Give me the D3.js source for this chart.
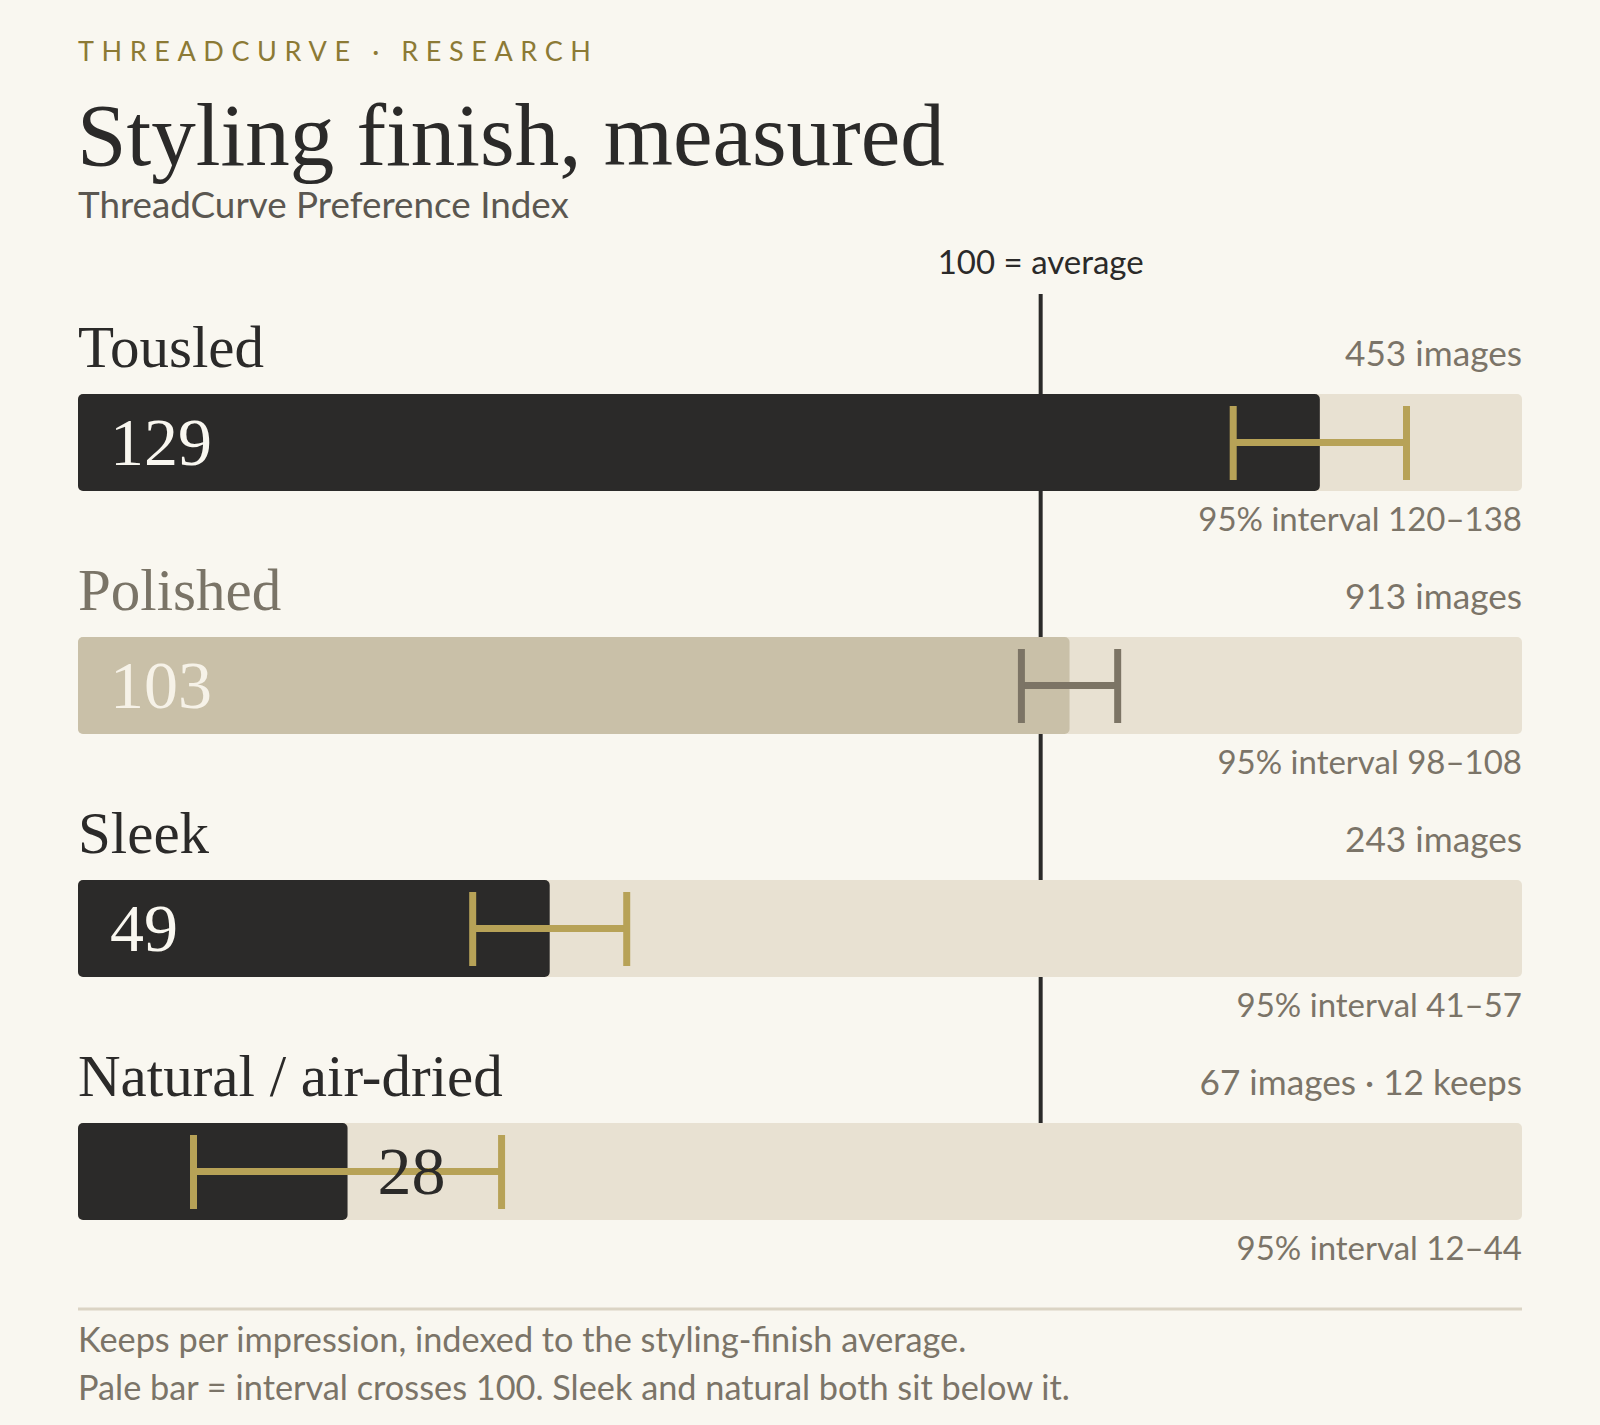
<!DOCTYPE html>
<html><head><meta charset="utf-8">
<script src="https://cdn.jsdelivr.net/npm/d3@7"></script>
<style>
html,body{margin:0;padding:0;background:#f9f7f0;}
svg{display:block;}
</style></head>
<body>
<svg id="chart" width="1600" height="1425"></svg>
<script>
const categories = ["Tousled", "Polished", "Sleek", "Natural / air-dried"];
const values = [129, 103, 49, 28];
const lowCI = [120, 98, 41, 12];
const highCI = [138, 108, 57, 44];
const sampleNotes = ["453 images", "913 images", "243 images", "67 images · 12 keeps"];
const crossesAverage = [false, true, false, false];
const domainMax = 150;
const averageValue = 100;

const W = 1600, H = 1425;
const left = 78, right = 1522;
const serif = "'Liberation Serif', 'Times New Roman', serif";
const sans = "Lato, 'Open Sans', sans-serif";
const C = {bg:"#f9f7f0", dark:"#2b2a29", pale:"#c9c0a8", track:"#e8e1d2", gold:"#b7a257", grey:"#7a7467", mute:"#7b7468", eyebrow:"#8c7a35"};

const svg = d3.select("#chart");
svg.append("rect").attr("width", W).attr("height", H).attr("fill", C.bg);

const x = d3.scaleLinear().domain([0, domainMax]).range([left, right]);
const y = d3.scaleBand().domain(categories).range([394, 394 + 243*4]).paddingInner(0).paddingOuter(0);
const barH = 97;

// header
svg.append("text").attr("x", left).attr("y", 61).text("THREADCURVE · RESEARCH")
  .attr("font-family", sans).attr("font-size", 27).attr("letter-spacing", "7.6px").attr("fill", C.eyebrow);
svg.append("text").attr("x", left - 1).attr("y", 165).text("Styling finish, measured")
  .attr("font-family", serif).attr("font-size", 89).attr("fill", C.dark);
svg.append("text").attr("x", left).attr("y", 218).text("ThreadCurve Preference Index")
  .attr("font-family", sans).attr("font-size", 36.8).attr("fill", "#5b5751");

// average line
svg.append("line").attr("x1", x(averageValue)).attr("x2", x(averageValue))
  .attr("y1", 294).attr("y2", y(categories[3]) + 2).attr("stroke", C.dark).attr("stroke-width", 4);
svg.append("text").attr("x", x(averageValue)).attr("y", 274).attr("text-anchor", "middle")
  .text("100 = average").attr("font-family", sans).attr("font-size", 33).attr("fill", C.dark);

const rows = svg.selectAll("g.row").data(categories.map((c, i) => ({c, i})))
  .enter().append("g").attr("class", "row");

rows.append("rect").attr("x", x(0)).attr("y", d => y(d.c)).attr("width", x(domainMax) - x(0))
  .attr("height", barH).attr("rx", 5).attr("fill", C.track);
rows.append("rect").attr("x", x(0)).attr("y", d => y(d.c)).attr("width", d => x(values[d.i]) - x(0))
  .attr("height", barH).attr("rx", 5).attr("fill", d => crossesAverage[d.i] ? C.pale : C.dark);

rows.append("text").attr("x", left).attr("y", d => y(d.c) - 27).text(d => d.c)
  .attr("font-family", serif).attr("font-size", 59)
  .attr("fill", d => crossesAverage[d.i] ? C.grey : C.dark);
rows.append("text").attr("x", right).attr("y", d => y(d.c) - 28).attr("text-anchor", "end")
  .text(d => sampleNotes[d.i]).attr("font-family", sans).attr("font-size", 35.2).attr("fill", C.mute);
rows.append("text").attr("x", right).attr("y", d => y(d.c) + barH + 40).attr("text-anchor", "end")
  .text(d => `95% interval ${lowCI[d.i]}–${highCI[d.i]}`).attr("font-family", sans).attr("font-size", 33).attr("fill", C.mute);

// whiskers
const wk = rows.append("g").attr("stroke", d => crossesAverage[d.i] ? "#7c7465" : C.gold).attr("stroke-width", 7);
wk.append("line").attr("x1", d => x(lowCI[d.i])).attr("x2", d => x(highCI[d.i]))
  .attr("y1", d => y(d.c) + barH/2).attr("y2", d => y(d.c) + barH/2);
wk.append("line").attr("x1", d => x(lowCI[d.i])).attr("x2", d => x(lowCI[d.i]))
  .attr("y1", d => y(d.c) + 12).attr("y2", d => y(d.c) + barH - 11);
wk.append("line").attr("x1", d => x(highCI[d.i])).attr("x2", d => x(highCI[d.i]))
  .attr("y1", d => y(d.c) + 12).attr("y2", d => y(d.c) + barH - 11);

// value labels
rows.append("text")
  .attr("x", d => values[d.i] < 30 ? x(values[d.i]) + 30 : left + 32)
  .attr("y", d => y(d.c) + barH/2 + 22)
  .text(d => values[d.i])
  .attr("font-family", serif).attr("font-size", 68)
  .attr("fill", d => values[d.i] < 30 ? C.dark : (crossesAverage[d.i] ? "#f6f2e8" : "#f9f7f0"));

// footer
svg.append("line").attr("x1", left).attr("x2", right).attr("y1", 1309).attr("y2", 1309)
  .attr("stroke", "#dbd4c4").attr("stroke-width", 3);
svg.append("text").attr("x", left).attr("y", 1352).text("Keeps per impression, indexed to the styling-finish average.")
  .attr("font-family", sans).attr("font-size", 34.3).attr("fill", C.mute);
svg.append("text").attr("x", left).attr("y", 1400).text("Pale bar = interval crosses 100. Sleek and natural both sit below it.")
  .attr("font-family", sans).attr("font-size", 34.3).attr("fill", C.mute);
</script>
</body></html>
